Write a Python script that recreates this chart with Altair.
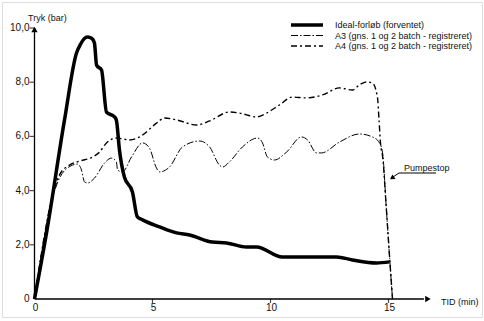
import altair as alt
import pandas as pd

# ---- data (x = TID in minutes, y = Tryk in bar) ----
ideal_x = [0, 0.51, 1.27, 1.78, 1.95, 2.1, 2.25, 2.42, 2.54, 2.63, 2.84, 3.05, 3.39, 3.47, 3.6, 3.81,
           4.15, 4.36, 4.58, 5.3, 6.02, 6.57, 7.54, 8.14, 8.98, 9.41, 10.5, 12.8, 13.47, 14.49, 15.04]
ideal_y = [0, 2.44, 6.6, 9.08, 9.4, 9.6, 9.67, 9.62, 9.45, 8.63, 8.45, 6.9, 6.72, 6.6, 5.5, 4.5,
           3.95, 3.03, 2.92, 2.66, 2.44, 2.36, 2.1, 2.07, 1.92, 1.92, 1.55, 1.55, 1.44, 1.33, 1.37]

a3_x = [0, 0.72, 1.06, 1.61, 1.82, 1.99, 2.12, 2.25, 2.54, 2.97, 3.26, 3.47, 3.52, 3.73, 4.11, 4.58,
        4.87, 5.17, 5.3, 5.72, 6.27, 6.99, 7.42, 7.84, 7.97, 8.26, 8.81, 9.45, 9.66, 9.87, 10.17,
        10.68, 11.31, 11.57, 11.95, 12.16, 12.92, 13.77, 14.32, 14.62, 14.75, 14.9, 15.05, 15.17]
a3_y = [0, 3.58, 4.46, 4.94, 4.98, 4.76, 4.32, 4.28, 4.46, 5.02, 5.2, 5.06, 4.76, 4.69, 5.24, 5.76,
        5.57, 4.83, 4.69, 4.87, 5.61, 5.83, 5.61, 4.94, 4.87, 5.06, 5.61, 5.94, 5.76, 5.24, 5.13,
        5.42, 5.98, 5.87, 5.39, 5.39, 5.79, 6.09, 5.98, 5.76, 5.39, 3.45, 1.5, 0]

a4_x = [0, 0.72, 1.06, 1.48, 1.91, 2.46, 2.75, 3.05, 3.47, 4.03, 4.45, 5.17, 5.51, 6.02, 6.86, 7.42,
        8.26, 8.69, 9.41, 9.83, 10.38, 10.93, 11.53, 12.2, 12.92, 13.47, 13.77, 14.07, 14.32, 14.53,
        14.6, 14.66, 14.76, 14.9, 15.05, 15.17]
a4_y = [0, 3.65, 4.58, 4.94, 5.09, 5.24, 5.42, 5.76, 5.94, 5.87, 5.98, 6.49, 6.68, 6.61, 6.42, 6.57,
        6.9, 6.86, 6.72, 6.86, 7.16, 7.45, 7.42, 7.53, 7.79, 7.71, 7.9, 8.01, 7.97, 7.45,
        6.6, 5.76, 5.2, 3.45, 1.5, 0]

y_tick_values = [0, 2, 4, 6, 8, 10]
y_tick_labels = ["0", "2,0", "4,0", "6,0", "8,0", "10,0"]
x_tick_values = [0, 5, 10, 15]
x_tick_labels = ["0", "5", "10", "15"]

legend_labels = ["Ideal-forløb (forventet)",
                 "A3 (gns. 1 og 2 batch - registreret)",
                 "A4 (gns. 1 og 2 batch - registreret)"]
y_title = "Tryk (bar)"
x_title = "TID (min)"
annotation = "Pumpestop"

FONT = "Liberation Sans"
INK = "#111111"

ideal = pd.DataFrame({"x": ideal_x, "y": ideal_y})
a3 = pd.DataFrame({"x": a3_x, "y": a3_y})
a4 = pd.DataFrame({"x": a4_x, "y": a4_y})
yt = pd.DataFrame({"v": y_tick_values, "lab": y_tick_labels, "x": [0] * len(y_tick_values)})
xt = pd.DataFrame({"v": x_tick_values, "lab": x_tick_labels, "y": [0] * len(x_tick_values)})

xs = alt.Scale(domain=[-1.377, 18.962], nice=False, zero=False)
ys = alt.Scale(domain=[-0.664, 10.96], nice=False, zero=False)
X = lambda f: alt.X(f, type="quantitative", scale=xs, axis=None)
Y = lambda f: alt.Y(f, type="quantitative", scale=ys, axis=None)

line_ideal = alt.Chart(ideal).mark_line(color="black", strokeWidth=3.5, interpolate="monotone",
                                        strokeJoin="round").encode(x=X("x"), y=Y("y"))
line_a3 = alt.Chart(a3).mark_line(color="black", strokeWidth=1, interpolate="monotone",
                                  strokeDash=[7, 2, 1.5, 2]).encode(x=X("x"), y=Y("y"))
line_a4 = alt.Chart(a4).mark_line(color="black", strokeWidth=1.4, interpolate="monotone",
                                  strokeDash=[6, 3, 2, 3]).encode(x=X("x"), y=Y("y"))

# axes drawn through the scales
axis_df = pd.DataFrame({"x0": [0], "y0": [0], "ytop": [10], "xend": [16.5], "xarrow": [16.67]})
y_axis = alt.Chart(axis_df).mark_rule(color="black", strokeWidth=1.3).encode(
    x=X("x0"), y=Y("y0"), y2="ytop")
x_axis = alt.Chart(axis_df).mark_rule(color="black", strokeWidth=1.3).encode(
    x=X("x0"), x2="xend", y=Y("y0"))
y_arrow = alt.Chart(axis_df).mark_point(shape="triangle-up", filled=True, color="black",
                                        size=40, opacity=1, yOffset=1.5).encode(x=X("x0"), y=Y("ytop"))
x_arrow = alt.Chart(axis_df).mark_point(shape="triangle-right", filled=True, color="black",
                                        size=40, opacity=1).encode(x=X("xarrow"), y=Y("y0"))

y_ticks = alt.Chart(yt[yt.v > 0]).mark_tick(orient="horizontal", color="black", size=5,
                                             thickness=1.2, xOffset=-2.5).encode(x=X("x"), y=Y("v"))
y_labels = alt.Chart(yt).mark_text(align="right", baseline="middle", font=FONT, fontSize=10,
                                   color=INK, dx=-5).encode(x=X("x"), y=Y("v"), text="lab:N")
x_ticks = alt.Chart(xt[xt.v > 0]).mark_tick(orient="vertical", color="black", size=4,
                                             thickness=1.2, yOffset=2).encode(x=X("v"), y=Y("y"))
x_labels = alt.Chart(xt).mark_text(align="center", baseline="middle", font=FONT, fontSize=10,
                                   color=INK, dy=9, dx=1).encode(x=X("v"), y=Y("y"), text="lab:N")

y_title_t = alt.Chart(axis_df).mark_text(text=y_title, align="left", baseline="middle",
                                         font=FONT, fontSize=9, color=INK).encode(
    x=alt.value(26), y=alt.value(16))
x_title_t = alt.Chart(axis_df).mark_text(text=x_title, align="left", baseline="middle",
                                         font=FONT, fontSize=9, color=INK).encode(
    x=alt.value(439), y=alt.value(300))

# legend
leg_rows = [23, 33.5, 44]
leg = []
leg.append(alt.Chart(axis_df).mark_rule(color="black", strokeWidth=3.5).encode(
    x=alt.value(289), x2=alt.value(321), y=alt.value(leg_rows[0])))
leg.append(alt.Chart(axis_df).mark_rule(color="black", strokeWidth=1, strokeDash=[7, 2, 1.5, 2]).encode(
    x=alt.value(289), x2=alt.value(321), y=alt.value(leg_rows[1])))
leg.append(alt.Chart(axis_df).mark_rule(color="black", strokeWidth=1.6, strokeDash=[6, 3, 2, 3]).encode(
    x=alt.value(289), x2=alt.value(321), y=alt.value(leg_rows[2])))
for lab, yy in zip(legend_labels, leg_rows):
    leg.append(alt.Chart(axis_df).mark_text(text=lab, align="left", baseline="middle", font=FONT,
                                            fontSize=9, color=INK).encode(
        x=alt.value(333), y=alt.value(yy)))

# annotation "Pumpestop"
ann = [
    alt.Chart(axis_df).mark_text(text=annotation, align="left", baseline="middle", font=FONT,
                                 fontSize=9, color=INK).encode(x=alt.value(402), y=alt.value(166)),
    alt.Chart(axis_df).mark_rule(color="black", strokeWidth=1).encode(
        x=alt.value(397), x2=alt.value(434), y=alt.value(171)),
    alt.Chart(axis_df).mark_rule(color="black", strokeWidth=1).encode(
        x=alt.value(397), x2=alt.value(391), y=alt.value(171), y2=alt.value(175)),
    alt.Chart(axis_df).mark_point(shape="triangle-left", filled=True, color="black", size=30,
                                  opacity=1, angle=325).encode(x=alt.value(390), y=alt.value(176)),
]

chart = alt.layer(
    line_a3, line_a4, line_ideal, y_axis, x_axis, y_arrow, x_arrow,
    y_ticks, y_labels, x_ticks, x_labels, y_title_t, x_title_t, *leg, *ann
).properties(
    width=480, height=315,
    padding={"left": 2, "top": 2, "right": 2, "bottom": 4},
    autosize=alt.AutoSizeParams(type="none"),
).configure_view(stroke="black", strokeWidth=1.5).configure(background="white")

chart.save("out.html", embed_options={"renderer": "svg", "actions": False})
